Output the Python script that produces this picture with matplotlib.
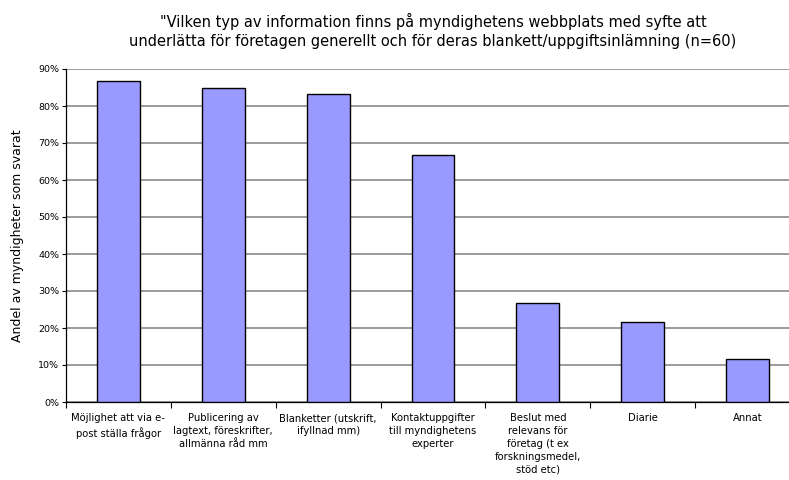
import matplotlib
matplotlib.use("Agg")
import matplotlib.pyplot as plt
import numpy as np
from matplotlib.ticker import FuncFormatter, MultipleLocator

# data
categories = [
    "Möjlighet att via e-\npost ställa frågor",
    "Publicering av\nlagtext, föreskrifter,\nallmänna råd mm",
    "Blanketter (utskrift,\nifyllnad mm)",
    "Kontaktuppgifter\ntill myndighetens\nexperter",
    "Beslut med\nrelevans för\nföretag (t ex\nforskningsmedel,\nstöd etc)",
    "Diarie",
    "Annat",
]
shares = [52 / 60, 51 / 60, 50 / 60, 40 / 60, 16 / 60, 13 / 60, 7 / 60]
title = ("\"Vilken typ av information finns på myndighetens webbplats med syfte att\n"
         "underlätta för företagen generellt och för deras blankett/uppgiftsinlämning (n=60)")
ylabel = "Andel av myndigheter som svarat"

plt.rcParams['font.family'] = ['DejaVu Sans']

fig = plt.figure(figsize=(7.89, 4.8), dpi=100)
# plot area runs a bit past the right edge, like the original
ax = fig.add_axes([66 / 789, 78 / 480, 734 / 789, 333 / 480])

x = np.arange(len(categories))
ax.bar(x, shares, width=0.41, color="#9999ff", edgecolor="black", linewidth=1, zorder=3)

ax.set_xlim(-0.5, len(categories) - 0.5)
ax.set_ylim(0, 0.9)
ax.yaxis.set_major_locator(MultipleLocator(0.1))
ax.yaxis.set_major_formatter(FuncFormatter(lambda v, p: "%d%%" % round(v * 100)))
ax.grid(axis="y", color="#808080", linewidth=1.1, zorder=0)

# ticks between categories, labels centred under bars
ax.set_xticks(np.arange(len(categories) + 1) - 0.5)
ax.set_xticklabels([])
ax.set_xticks(x, minor=True)
ax.set_xticklabels(categories, minor=True, fontsize=7.2, linespacing=1.36, va="top")
ax.tick_params(axis="x", which="minor", length=0, pad=8)
ax.tick_params(axis="x", which="major", length=4, width=0.8, direction="out")
ax.tick_params(axis="y", length=3, width=0.8, labelsize=6.8, pad=2)

for side in ["top", "right"]:
    ax.spines[side].set_visible(False)
ax.spines["left"].set_linewidth(0.9)
ax.spines["bottom"].set_linewidth(0.9)

ax.set_ylabel(ylabel, fontsize=9, labelpad=10)
fig.text(433 / 789, 1 - 31 / 480, title, ha="center", va="center", fontsize=10.5, linespacing=1.4)

fig.savefig("out.png", dpi=100)
